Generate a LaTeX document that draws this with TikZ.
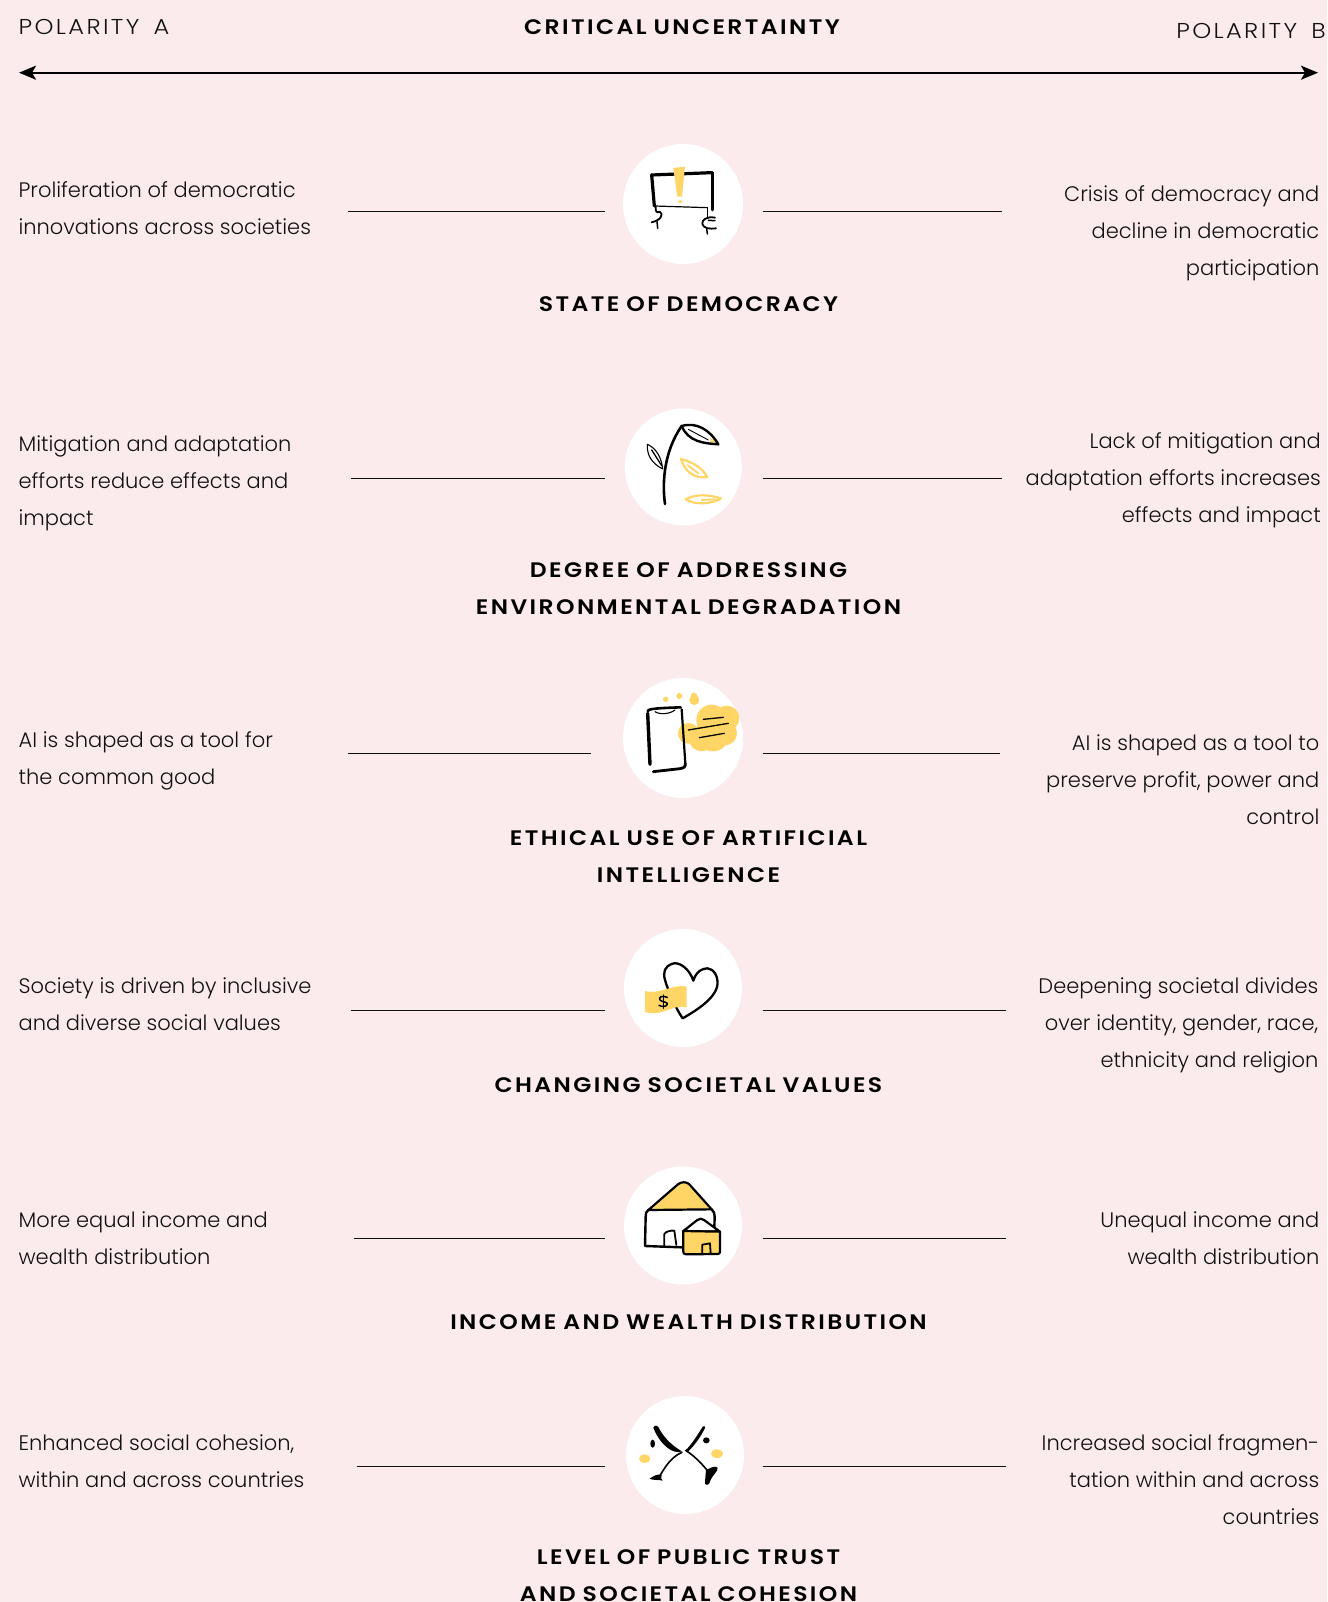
\documentclass[tikz,border=0pt]{standalone}
\usepackage{fontspec}
\usetikzlibrary{arrows.meta}
\setmainfont{Poppins Light}
\newfontfamily\headfont[FakeStretch=1.12,LetterSpace=11.5,WordSpace=2]{Poppins SemiBold}
\newfontfamily\polfont[FakeStretch=1.12,LetterSpace=11,WordSpace=1.6]{Poppins Light}
\definecolor{bgpink}{HTML}{FCEBEC}
\definecolor{ink}{HTML}{111111}
\definecolor{sun}{HTML}{FFD666}
\tikzset{
  x=1pt,y=-1pt,
  disc/.style={circle,fill=white,inner sep=0pt,minimum size=#1},
  ltext/.style={anchor=base west,inner sep=0pt,text width=340pt,align=flush left,text=ink,font=\fontsize{21}{37}\selectfont},
  rtext/.style={anchor=base east,inner sep=0pt,text width=340pt,align=flush right,text=ink,font=\fontsize{21}{37}\selectfont},
  title/.style={anchor=base,inner sep=0pt,text=black,text width=800pt,align=center,font=\fontsize{21}{37}\selectfont\headfont},
  polar/.style={inner sep=0pt,text=ink,font=\fontsize{21.5}{25}\selectfont\polfont},
  rule/.style={draw=ink,line width=1.2pt},
  axis/.style={draw=black,line width=2.2pt,{Stealth[length=17pt,width=14pt,inset=4pt]}-{Stealth[length=17pt,width=14pt,inset=4pt]}},
  icon/.style 2 args={shift={(#1,#2)},x=0.3333pt,y=-0.3333pt,line cap=round,line join=round},
  ik/.style={draw=black,line width=#1,fill=none},
  iy/.style={draw=sun,line width=#1,fill=none}
}
\begin{document}
\begin{tikzpicture}
\useasboundingbox (0,0) rectangle (1327,1602);
\fill[bgpink] (0,0) rectangle (1327,1602);

% header
\node[polar,anchor=base west] (pa) at (18.5,34.5) {POLARITY A};
\node[title,anchor=base] (ct) at (682,34.5) {CRITICAL UNCERTAINTY};
\node[polar,anchor=base east] (pb) at (1326,38.5) {POLARITY B};
\coordinate (axl) at (19,72.7);
\coordinate (axr) at (1318,72.7);
\draw[axis] (axl) -- (axr);

% discs
\node[disc=120pt] (d1) at (683,204) {};
\node[disc=117pt] (d2) at (683.3,467) {};
\node[disc=120pt] (d3) at (683,738) {};
\node[disc=118pt] (d4) at (683,988) {};
\node[disc=118pt] (d5) at (683,1225.5) {};
\node[disc=118pt] (d6) at (685,1455) {};

% rules
\coordinate (l1a) at (347.5,211.5); \coordinate (l1b) at (604.5,211.5);
\coordinate (r1a) at (762.5,211.5); \coordinate (r1b) at (1001.5,211.5);
\coordinate (l2a) at (350.5,478.5); \coordinate (l2b) at (604.5,478.5);
\coordinate (r2a) at (762.5,478.5); \coordinate (r2b) at (1001.5,478.5);
\coordinate (l3a) at (347.5,753.5); \coordinate (l3b) at (590.5,753.5);
\coordinate (r3a) at (762.5,753.5); \coordinate (r3b) at (999.5,753.5);
\coordinate (l4a) at (350.5,1010.5); \coordinate (l4b) at (604.5,1010.5);
\coordinate (r4a) at (762.5,1010.5); \coordinate (r4b) at (1005.5,1010.5);
\coordinate (l5a) at (353.5,1238.5); \coordinate (l5b) at (604.5,1238.5);
\coordinate (r5a) at (762.5,1238.5); \coordinate (r5b) at (1005.5,1238.5);
\coordinate (l6a) at (356.5,1466.5); \coordinate (l6b) at (604.5,1466.5);
\coordinate (r6a) at (762.5,1466.5); \coordinate (r6b) at (1005.5,1466.5);
\foreach \n in {1,...,6}{
  \draw[rule] (l\n a) -- (l\n b);
  \draw[rule] (r\n a) -- (r\n b);
}

% left texts
\node[ltext] (t1l) at (18.4,198) {Proliferation of democratic\\innovations across societies};
\node[ltext] (t2l) at (18.4,451) {Mitigation and adaptation\\efforts reduce effects and\\impact};
\node[ltext] (t3l) at (18.4,747) {AI is shaped as a tool for\\the common good};
\node[ltext] (t4l) at (18.4,993) {Society is driven by inclusive\\and diverse social values};
\node[ltext] (t5l) at (18.4,1227) {More equal income and\\wealth distribution};
\node[ltext] (t6l) at (18.4,1450) {Enhanced social cohesion,\\within and across countries};

% right texts
\node[rtext] (t1r) at (1319.5,202) {Crisis of democracy and\\decline in democratic\\participation};
\node[rtext] (t2r) at (1321,448) {Lack of mitigation and\\adaptation efforts increases\\effects and impact};
\node[rtext] (t3r) at (1319.5,750) {AI is shaped as a tool to\\preserve profit, power and\\control};
\node[rtext] (t4r) at (1318.5,993) {Deepening societal divides\\over identity, gender, race,\\ethnicity and religion};
\node[rtext] (t5r) at (1319.5,1227) {Unequal income and\\wealth distribution};
\node[rtext] (t6r) at (1319.5,1450) {Increased social fragmen-\\tation within and across\\countries};

% titles
\node[title] (h1) at (688.5,311.5) {STATE OF DEMOCRACY};
\node[title] (h2) at (688.5,577.5) {DEGREE OF ADDRESSING\\ENVIRONMENTAL DEGRADATION};
\node[title] (h3) at (688.5,845.5) {ETHICAL USE OF ARTIFICIAL\\INTELLIGENCE};
\node[title] (h4) at (688.5,1092.5) {CHANGING SOCIETAL VALUES};
\node[title] (h5) at (688.5,1329.5) {INCOME AND WEALTH DISTRIBUTION};
\node[title] (h6) at (688.5,1564) {LEVEL OF PUBLIC TRUST\\AND SOCIETAL COHESION};

% icon 1: banner
\begin{scope}[icon={600}{130}]
  \draw[ik=3.2pt] (155,135) -- (335,128);
  \draw[ik=3pt] (337,128) -- (337,240);
  \draw[ik=3.2pt] (155,135) -- (163,228);
  \draw[ik=1.2pt] (163,228) -- (322,233);
  \fill[sun] (220,114) -- (255,110) -- (246,200) -- (232,200) -- cycle;
  \fill[sun] (241,215) ellipse (7 and 4);
  \draw[ik=1.8pt] (167,230) .. controls (165,245) and (172,250) .. (178,245) .. controls (195,255) and (178,272) .. (155,277);
  \draw[ik=1.5pt] (171,275) -- (173,295);
  \draw[ik=1.5pt] (322,233) -- (322,262);
  \draw[ik=1.8pt] (345,263) .. controls (320,258) and (305,270) .. (307,282) .. controls (310,295) and (330,298) .. (348,295);
  \draw[ik=1.5pt] (325,271) -- (345,272);
  \draw[ik=1.5pt] (320,295) -- (322,312);
\end{scope}

% icon 2: plant
\begin{scope}[icon={610}{400}]
  \draw[ik=2.6pt] (165,312) .. controls (155,240) and (165,150) .. (215,78);
  \fill[sun] (300,112) -- (318,127) -- (303,129) -- cycle;
  \draw[ik=2.4pt] (215,78) .. controls (260,65) and (300,90) .. (325,133) .. controls (280,130) and (235,125) .. (215,78) -- cycle;
  \draw[ik=0.9pt] (235,88) -- (295,120);
  \draw[ik=1.1pt] (158,207) .. controls (125,190) and (110,165) .. (112,133) .. controls (140,145) and (155,175) .. (158,207) -- cycle;
  \draw[ik=1.3pt] (125,150) -- (155,197);
  \draw[iy=2.2pt] (213,177) .. controls (260,190) and (280,210) .. (292,232) .. controls (250,235) and (225,215) .. (213,177) -- cycle;
  \draw[iy=1.8pt] (232,195) -- (265,220);
  \draw[iy=2.2pt] (227,298) .. controls (260,280) and (300,285) .. (333,295) .. controls (310,310) and (260,318) .. (227,298) -- cycle;
  \draw[iy=1.8pt] (275,300) -- (315,298);
\end{scope}

% icon 3: phone and cloud
\begin{scope}[icon={610}{670}]
  \fill[sun] (235,190) circle (31);
  \fill[sun] (305,150) circle (46);
  \fill[sun] (350,145) circle (38);
  \fill[sun] (310,198) circle (46);
  \fill[sun] (345,190) circle (36);
  \fill[sun] (275,205) circle (39);
  \fill[sun] (167,88) circle (8);
  \fill[sun] (208,78) circle (9);
  \fill[sun] (253,90) circle (15);
  \fill[sun] (252,78) circle (10);
  \draw[ik=3.4pt] (113,130) -- (120,283);
  \draw[ik=2.6pt] (113,125) .. controls (113,118) and (120,115) .. (212,112);
  \draw[ik=2.2pt] (215,118) -- (226,280);
  \draw[ik=2.8pt] (130,305) -- (210,296) .. controls (222,294) and (227,290) .. (226,280);
  \draw[ik=1.1pt] (135,125) .. controls (150,135) and (180,132) .. (195,120);
  \draw[ik=1.3pt] (280,148) -- (340,142);
  \draw[ik=1.3pt] (235,180) -- (355,160);
  \draw[ik=1.3pt] (268,203) -- (343,190);
\end{scope}

% icon 4: heart and bill
\begin{scope}[icon={610}{920}]
  \draw[ik=2.3pt] (250,182) .. controls (238,145) and (205,122) .. (185,132) .. controls (165,140) and (158,155) .. (165,180) .. controls (175,215) and (200,270) .. (218,295) .. controls (270,265) and (330,225) .. (322,180) .. controls (318,150) and (295,140) .. (280,147) .. controls (265,152) and (255,165) .. (250,182);
  \fill[sun] (105,213) .. controls (150,225) and (190,190) .. (230,200) -- (230,262) .. controls (190,250) and (150,295) .. (105,275) -- cycle;
  \draw[ik=1.5pt] (160,225) -- (160,265);
  \draw[ik=1.5pt] (172,232) .. controls (155,225) and (145,232) .. (150,240) .. controls (155,247) and (175,245) .. (172,253) .. controls (168,262) and (155,260) .. (147,256);
\end{scope}

% icon 5: houses
\begin{scope}[icon={610}{1160}]
  \filldraw[fill=sun,draw=black,line width=2.2pt] (115,150) -- (205,72) .. controls (215,65) and (228,65) .. (237,72) -- (305,148) -- cycle;
  \draw[ik=2.4pt] (115,150) .. controls (108,155) and (107,160) .. (107,170) -- (105,258) -- (215,262);
  \draw[ik=2.4pt] (305,148) .. controls (312,155) and (314,160) .. (314,170) -- (313,205);
  \draw[ik=1.8pt] (163,258) -- (163,222) .. controls (165,215) and (185,210) .. (193,212) -- (199,255);
  \filldraw[fill=white,draw=black,line width=2.2pt] (220,213) -- (262,180) .. controls (270,175) and (275,175) .. (282,180) -- (330,215) -- cycle;
  \filldraw[fill=sun,draw=black,line width=2.2pt] (220,213) -- (330,215) -- (330,275) .. controls (330,280) and (328,282) .. (322,282) -- (228,283) .. controls (222,283) and (220,280) .. (220,275) -- cycle;
  \draw[ik=1.8pt] (277,280) -- (277,254) -- (300,250) -- (302,280);
\end{scope}

% icon 6: crossing figures
\begin{scope}[icon={610}{1390}]
  \fill[black] (130,113) .. controls (133,105) and (142,105) .. (146,113) .. controls (165,150) and (195,172) .. (216,184) .. controls (190,195) and (150,165) .. (130,113) -- cycle;
  \draw[ik=1.6pt] (216,187) .. controls (185,200) and (165,230) .. (147,262);
  \fill[black] (119,266) .. controls (130,258) and (145,250) .. (155,255) .. controls (150,262) and (155,268) .. (158,272) .. controls (145,268) and (130,272) .. (119,266) -- cycle;
  \fill[black] (225,182) .. controls (245,165) and (265,130) .. (279,109) .. controls (283,107) and (287,110) .. (285,114) .. controls (270,145) and (250,170) .. (232,187) -- cycle;
  \draw[ik=1.6pt] (228,182) .. controls (250,195) and (275,220) .. (295,245);
  \fill[black] (288,240) .. controls (300,235) and (315,225) .. (323,233) .. controls (325,245) and (305,255) .. (298,280) .. controls (293,288) and (283,285) .. (285,275) -- cycle;
  \fill[black] (128,161) ellipse (7 and 12);
  \fill[black] (289,151) ellipse (10 and 9);
  \fill[sun] (104,206) ellipse (17 and 13);
  \fill[sun] (321,191) ellipse (18 and 13);
\end{scope}
\end{tikzpicture}
\end{document}
